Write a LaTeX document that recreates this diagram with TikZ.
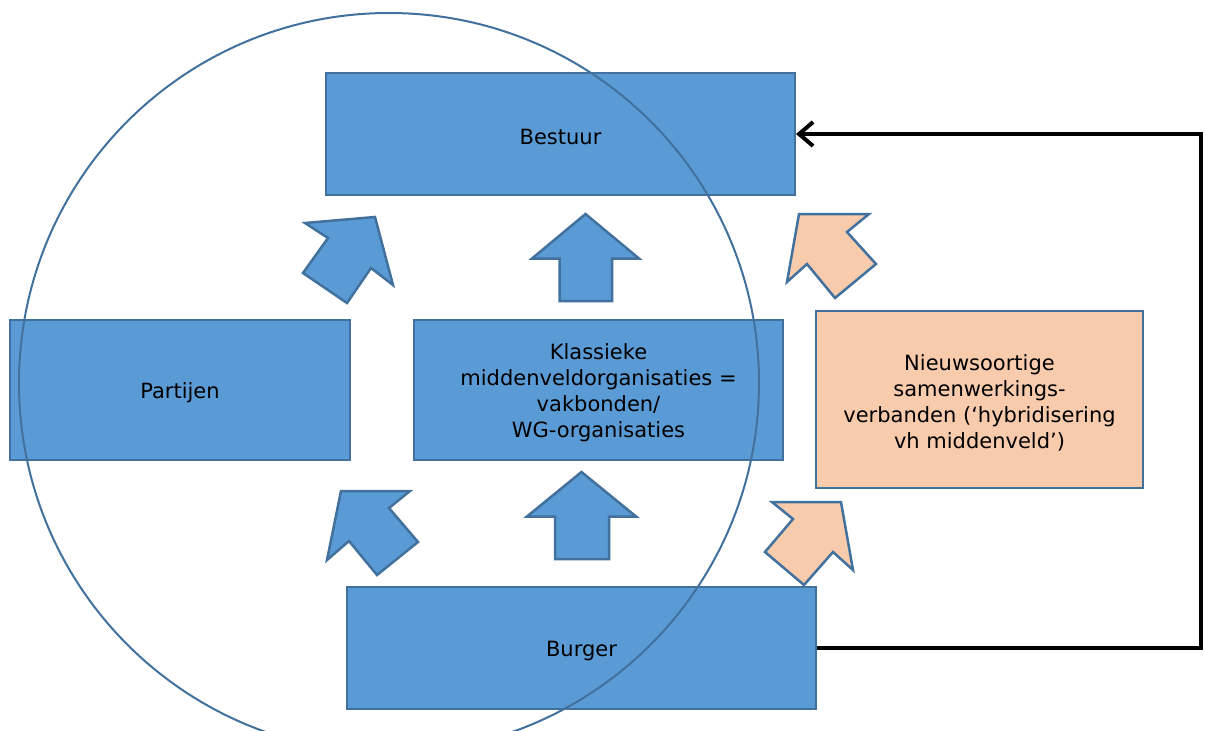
\documentclass[tikz,border=0pt]{standalone}
\usepackage{fontspec}
\setmainfont{DejaVu Sans}
\usetikzlibrary{arrows.meta}
\definecolor{boxblue}{HTML}{5B9BD5}
\definecolor{edgeblue}{HTML}{41719C}
\definecolor{peach}{HTML}{F8CBAD}
\tikzset{
  box/.style={draw=edgeblue, line width=2pt, fill=boxblue, inner sep=0pt},
  pbox/.style={box, fill=peach},
  boxtext/.style={align=center, inner sep=0pt, yshift=-3pt, font=\fontsize{21}{26}\selectfont},
  bluearrow/.style={draw=edgeblue, line width=2.5pt, fill=boxblue, line join=miter},
  peacharrow/.style={bluearrow, fill=peach},
  feedback/.style={draw=black, line width=4pt, -{Straight Barb[length=14pt,width=24pt,line width=4pt]}}
}
\begin{document}
\begin{tikzpicture}[x=1pt,y=-1pt]
\useasboundingbox[fill=white] (0,0) rectangle (1205,731);
% boxes
\node[box, minimum width=469pt, minimum height=122pt,
  label={[boxtext]center:Bestuur}] (bestuur) at (560.5,134) {};
\node[box, minimum width=340pt, minimum height=140pt,
  label={[boxtext]center:Partijen}] (partijen) at (180,390) {};
\node[box, minimum width=369pt, minimum height=140pt,
  label={[boxtext]center:{Klassieke\\middenveldorganisaties =\\vakbonden/\\WG-organisaties}}] (klassiek) at (598.5,390) {};
\node[pbox, minimum width=327pt, minimum height=177pt,
  label={[boxtext]center:{Nieuwsoortige\\samenwerkings-\\verbanden (‘hybridisering\\vh middenveld’)}}] (nieuw) at (979.5,399.5) {};
\node[box, minimum width=469pt, minimum height=122pt,
  label={[boxtext]center:Burger}] (burger) at (581.5,648) {};
% block arrows
\draw[bluearrow] (305,223) -- (375,217) -- (393,285) -- (371,268) -- (347,303) -- (303,273) -- (328,238) -- cycle;
\draw[bluearrow] (585.5,214) -- (639,258.5) -- (612,258.5) -- (612,301) -- (559.5,301) -- (559.5,258.5) -- (532,258.5) -- cycle;
\draw[peacharrow] (799,214) -- (869,214) -- (847,232) -- (876,264) -- (835,298) -- (807,264) -- (787,282) -- cycle;
\draw[bluearrow] (341,491) -- (410,491) -- (389,508) -- (418,542) -- (377,575) -- (349,541) -- (327,560) -- cycle;
\draw[bluearrow] (581.5,472) -- (636,516.5) -- (609,516.5) -- (609,559) -- (555,559) -- (555,516.5) -- (527,516.5) -- cycle;
\draw[peacharrow] (772,502) -- (841,502) -- (853,570) -- (833,552) -- (804,585) -- (765,552) -- (793,519) -- cycle;
% circle
\node[circle, draw=edgeblue, line width=2pt, minimum size=740pt, inner sep=0pt] (ring) at (389,383) {};
% feedback connector
\coordinate (corner) at (1201,648);
\draw[feedback] (burger.east) -- (corner) |- (bestuur.east);
\end{tikzpicture}
\end{document}
